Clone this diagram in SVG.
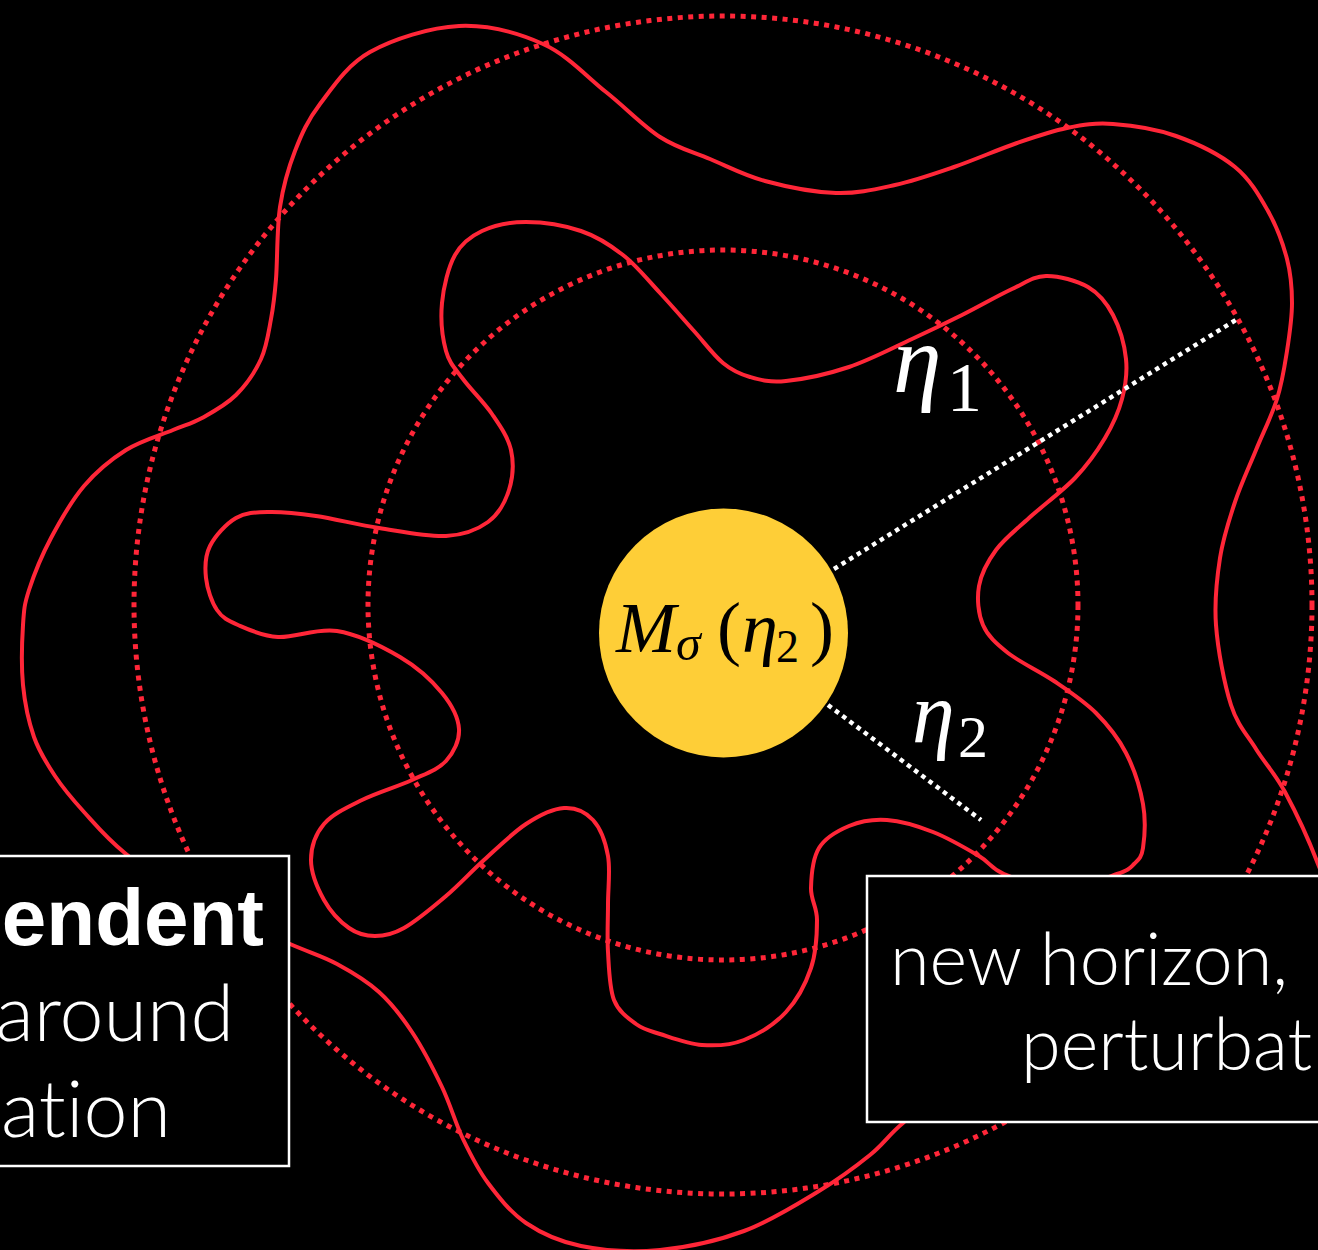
<svg xmlns="http://www.w3.org/2000/svg" width="1318" height="1250" viewBox="0 0 1318 1250">
<defs>
<style>
.red{fill:none;stroke:#FF2638;stroke-width:4;stroke-linejoin:round}
.rdot{fill:none;stroke:#FF2638;stroke-width:5;stroke-dasharray:5 5.5}
.wdot{fill:none;stroke:#FFFFFF;stroke-width:4.5;stroke-dasharray:4.5 4.5}
.box{fill:#000;stroke:#FFFFFF;stroke-width:2.5}
.light{font-family:Lato,"Liberation Sans",sans-serif;font-weight:300;fill:#FFFFFF;font-variant-ligatures:none;font-feature-settings:"liga" 0,"clig" 0}
.bold{font-family:"Liberation Sans",Arial,sans-serif;font-weight:700;fill:#FFFFFF}
.mi{font-family:"Liberation Serif","DejaVu Serif",serif;font-style:italic}
.mu{font-family:"Liberation Serif","DejaVu Serif",serif}
</style>
</defs>
<rect x="0" y="0" width="1318" height="1250" fill="#000"/>
<g id="dotted-circles">
<circle class="rdot" cx="723" cy="605" r="589"/>
<circle class="rdot" cx="723" cy="605" r="355"/>
</g>
<g id="horizon-outer">
<path class="red" d="M459,26 C487.8,24.7 518.5,33 543,44 C567.5,55 586.5,76.5 606,92 C625.5,107.5 642.7,125.8 660,137 C677.3,148.2 692.5,151.7 710,159 C727.5,166.3 744,175.3 765,181 C786,186.7 814.3,192.3 836,193 C857.7,193.7 875.3,189.3 895,185 C914.7,180.7 933.7,174 954,167 C974.3,160 998.2,149.5 1017,143 C1035.8,136.5 1051,131.2 1067,128 C1083,124.8 1094.8,122.7 1113,124 C1131.2,125.3 1155.7,128.8 1176,136 C1196.3,143.2 1219.7,154.5 1235,167 C1250.3,179.5 1259.3,195.7 1268,211 C1276.7,226.3 1283,243.7 1287,259 C1291,274.3 1292,287.7 1292,303 C1292,318.3 1289.5,335 1287,351 C1284.5,367 1282.2,382.5 1277,399 C1271.8,415.5 1263,432.8 1256,450 C1249,467.2 1241,484 1235,502 C1229,520 1223.2,537.5 1220,558 C1216.8,578.5 1214.2,600.5 1216,625 C1217.8,649.5 1224.3,684.3 1231,705 C1237.7,725.7 1247,734.5 1256,749 C1265,763.5 1274.7,772.8 1285,792 C1295.3,811.2 1308,837.7 1318,864 C1328,890.3 1348,919 1345,950 C1342,981 1340.8,1029.2 1300,1050 C1259.2,1070.8 1156.7,1070 1100,1075 C1043.3,1080 992.8,1072 960,1080 C927.2,1088 918,1110.5 903,1123 C888,1135.5 884,1143.7 870,1155 C856,1166.3 840,1178.3 819,1191 C798,1203.7 770.5,1221.2 744,1231 C717.5,1240.8 687.2,1247.5 660,1250 C632.8,1252.5 603.3,1250.5 581,1246 C558.7,1241.5 541.5,1233.5 526,1223 C510.5,1212.5 498.5,1197 488,1183 C477.5,1169 470.7,1155 463,1139 C455.3,1123 450.5,1104.8 442,1087 C433.5,1069.2 422.5,1047.8 412,1032 C401.5,1016.2 391.5,1003.3 379,992 C366.5,980.7 351.8,972 337,964 C322.2,956 312.8,953.8 290,944 C267.2,934.2 227.3,920 200,905 C172.7,890 145.3,869.5 126,854 C106.7,838.5 95.8,825 84,812 C72.2,799 63.3,788.5 55,776 C46.7,763.5 39.3,752.2 34,737 C28.7,721.8 24.8,703.7 23,685 C21.2,666.3 22,640.8 23,625 C24,609.2 24.3,604.5 29,590 C33.7,575.5 41.8,555.3 51,538 C60.2,520.7 71.5,500.7 84,486 C96.5,471.3 111.2,459.3 126,450 C140.8,440.7 160.3,435.3 173,430 C185.7,424.7 191.5,423.8 202,418 C212.5,412.2 226.2,404.8 236,395 C245.8,385.2 255.2,371.7 261,359 C266.8,346.3 268.5,332.3 271,319 C273.5,305.7 274.5,297.7 276,279 C277.5,260.3 276.8,228.3 280,207 C283.2,185.7 288.3,168.2 295,151 C301.7,133.8 307.5,120.5 320,104 C332.5,87.5 346.8,65 370,52 C393.2,39 430.2,27.3 459,26 Z"/>
</g>
<g id="horizon-inner">
<path class="red" d="M482,231 C493.8,225.5 509.5,222 526,222 C542.5,222 564.8,225.5 581,231 C597.2,236.5 609.8,244.7 623,255 C636.2,265.3 648.2,280.3 660,293 C671.8,305.7 683.5,319.3 694,331 C704.5,342.7 713.7,355.3 723,363 C732.3,370.7 739.5,374 750,377 C760.5,380 769.5,382.7 786,381 C802.5,379.3 828,374 849,367 C870,360 893.2,347.7 912,339 C930.8,330.3 945.3,323.3 962,315 C978.7,306.7 998,295.5 1012,289 C1026,282.5 1033.3,276.3 1046,276 C1058.7,275.7 1076.8,280.5 1088,287 C1099.2,293.5 1106.7,303 1113,315 C1119.3,327 1124.5,345 1126,359 C1127.5,373 1125.5,385.8 1122,399 C1118.5,412.2 1112.8,424.8 1105,438 C1097.2,451.2 1087.7,464.7 1075,478 C1062.3,491.3 1042.2,506 1029,518 C1015.8,530 1004.3,538.7 996,550 C987.7,561.3 981.2,573.5 979,586 C976.8,598.5 978.2,613.8 983,625 C987.8,636.2 996.2,643.7 1008,653 C1019.8,662.3 1039.3,671 1054,681 C1068.7,691 1084,701 1096,713 C1108,725 1118.2,737.8 1126,753 C1133.8,768.2 1140.2,788.2 1143,804 C1145.8,819.8 1144.5,838 1143,848 C1141.5,858 1138.3,859.7 1134,864 C1129.7,868.3 1129.3,869.7 1117,874 C1104.7,878.3 1078.8,890 1060,890 C1041.2,890 1017.5,879.7 1004,874 C990.5,868.3 990.8,863 979,856 C967.2,849 948.3,838 933,832 C917.7,826 901,821 887,820 C873,819 860.3,821.3 849,826 C837.7,830.7 825.3,837.7 819,848 C812.7,858.3 811.3,876 811,888 C810.7,900 817,906.7 817,920 C817,933.3 816.2,952.7 811,968 C805.8,983.3 797.2,1000 786,1012 C774.8,1024 758,1034.5 744,1040 C730,1045.5 716,1046 702,1045 C688,1044 671,1037.5 660,1034 C649,1030.5 643.7,1029.7 636,1024 C628.3,1018.3 618.7,1012 614,1000 C609.3,988 609,968 608,952 C607,936 608,920 608,904 C608,888 610.5,870 608,856 C605.5,842 600.3,828 593,820 C585.7,812 575.2,807.3 564,808 C552.8,808.7 539.3,815.3 526,824 C512.7,832.7 497.3,848 484,860 C470.7,872 459.3,884.7 446,896 C432.7,907.3 415.8,921.3 404,928 C392.2,934.7 384.2,936 375,936 C365.8,936 357.5,934 349,928 C340.5,922 330.3,911.3 324,900 C317.7,888.7 311,872.7 311,860 C311,847.3 315.5,834 324,824 C332.5,814 347.3,807.3 362,800 C376.7,792.7 398,786.5 412,780 C426,773.5 438.2,769.5 446,761 C453.8,752.5 459.7,740.3 459,729 C458.3,717.7 451.8,705 442,693 C432.2,681 417.5,667.3 400,657 C382.5,646.7 357.3,634.3 337,631 C316.7,627.7 294.5,638 278,637 C261.5,636 248.2,629.5 238,625 C227.8,620.5 222.3,617.8 217,610 C211.7,602.2 207.2,588.7 206,578 C204.8,567.3 205,556 210,546 C215,536 226.2,523.7 236,518 C245.8,512.3 255.7,512.3 269,512 C282.3,511.7 297.7,513.3 316,516 C334.3,518.7 357.3,524.7 379,528 C400.7,531.3 427.8,537 446,536 C464.2,535 477.5,529.7 488,522 C498.5,514.3 505.2,502 509,490 C512.8,478 513.8,462.7 511,450 C508.2,437.3 500,425.8 492,414 C484,402.2 470.7,389.5 463,379 C455.3,368.5 449.5,363.7 446,351 C442.5,338.3 440.5,319 442,303 C443.5,287 448.3,267 455,255 C461.7,243 470.2,236.5 482,231 Z"/>
</g>
<g id="box-left">
<rect class="box" x="-10" y="856" width="299" height="310"/>
<text class="bold" x="264" y="945" text-anchor="end" font-size="80">endent</text>
<text class="light" x="234" y="1041" text-anchor="end" font-size="79">around</text>
<text class="light" x="171" y="1137" text-anchor="end" font-size="79">ation</text>
</g>
<g id="box-right">
<rect class="box" x="867" y="876" width="470" height="246"/>
<text class="light" x="890" y="985" font-size="72">new horizon,</text>
<text class="light" x="1021" y="1070" font-size="72">perturbat</text>
</g>
<g id="connectors">
<line class="wdot" x1="834" y1="569" x2="1239" y2="318"/>
<line class="wdot" x1="828" y1="705" x2="981" y2="820"/>
</g>
<g id="mass">
<circle cx="723.5" cy="633" r="124.5" fill="#FECE37"/>
<text class="mi" x="616" y="652" font-size="72" fill="#000">M</text>
<text class="mi" x="676" y="660" font-size="50" fill="#000">σ</text>
<text class="mu" x="717" y="652" font-size="72" fill="#000">(</text>
<text class="mi" x="742" y="652" font-size="72" fill="#000">η</text>
<text class="mu" x="776" y="662" font-size="46" fill="#000">2</text>
<text class="mu" x="810" y="652" font-size="72" fill="#000">)</text>
</g>
<g id="label-eta1">
<text class="mi" x="893" y="392" font-size="98" fill="#FFF">η</text>
<text class="mu" x="947" y="411" font-size="70" fill="#FFF">1</text>
</g>
<g id="label-eta2">
<text class="mi" x="912" y="742" font-size="86" fill="#FFF">η</text>
<text class="mu" x="958" y="757" font-size="60" fill="#FFF">2</text>
</g>
</svg>
